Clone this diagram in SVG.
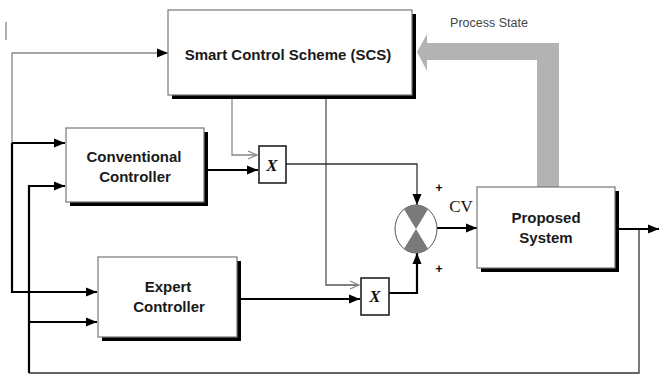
<svg xmlns="http://www.w3.org/2000/svg" width="659" height="376" viewBox="0 0 659 376">
<defs>
<marker id="ab" markerUnits="userSpaceOnUse" markerWidth="12" markerHeight="10" refX="11" refY="5" orient="auto"><path d="M0,0.5 L11,5 L0,9.5 Z" fill="#000"/></marker>
<marker id="ao" markerUnits="userSpaceOnUse" markerWidth="12" markerHeight="10" refX="10" refY="5" orient="auto"><path d="M1,1 L10,5 L1,9" fill="none" stroke="#888" stroke-width="1.2"/></marker>
</defs>
<style>
.box{fill:#fff;stroke:#777;stroke-width:1.2}
.sh{fill:#000}
.lbl{font-family:"Liberation Sans",Arial,sans-serif;font-weight:bold;font-size:15px;fill:#1a1a1a;text-anchor:middle}
.mul{fill:#fff;stroke:#222;stroke-width:1.6}
.mx{font-family:"Liberation Serif","Times New Roman",serif;font-weight:bold;font-style:italic;font-size:17px;fill:#111;text-anchor:middle}
.blk{fill:none;stroke:#000;stroke-width:2.2}
.thin{fill:none;stroke:#333;stroke-width:1.3}
.gry{fill:none;stroke:#888;stroke-width:1.3}
.dg{fill:none;stroke:#555;stroke-width:1.3}
.pl{font-family:"Liberation Sans",Arial,sans-serif;font-weight:bold;font-size:12px;fill:#000;text-anchor:middle}
</style>
<line x1="6" y1="22" x2="6" y2="40" stroke="#777" stroke-width="1.2"/>
<g id="connectors">
<polyline class="gry" points="12,143 12,53 168,53" marker-end="url(#ab)"/>
<polyline class="blk" points="12,143 12,292 97,292" marker-end="url(#ab)"/>
<line class="blk" x1="12" y1="143" x2="65" y2="143" marker-end="url(#ab)"/>
<polyline class="blk" points="29,373 29,186 65,186" marker-end="url(#ab)"/>
<line class="blk" x1="29" y1="322" x2="97" y2="322" marker-end="url(#ab)"/>
<polyline class="thin" points="29,373 639,373 639,229"/>
<line class="blk" x1="208" y1="170" x2="258" y2="170" marker-end="url(#ab)"/>
<line class="blk" x1="240" y1="299" x2="360" y2="299" marker-end="url(#ab)"/>
<polyline class="gry" points="232,98 232,155 257,155" marker-end="url(#ao)"/>
<polyline class="dg" points="326,98 326,285 359,285" marker-end="url(#ao)"/>
<polyline class="thin" points="286,164 417,164 417,205" marker-end="url(#ab)"/>
<polyline class="blk" points="389,293 417,293 417,253" marker-end="url(#ab)"/>
<line class="blk" x1="437" y1="228" x2="477" y2="228" marker-end="url(#ab)"/>
<line class="blk" x1="618" y1="229" x2="659" y2="229" marker-end="url(#ab)"/>
<polygon points="559,187 559,43 427,43 427,34 417,52 427,71 427,60 537,60 537,187" fill="#b3b3b3"/>
<text x="489" y="27" font-family="'Liberation Sans',Arial,sans-serif" font-size="12.5" fill="#444" text-anchor="middle">Process State</text>
<text x="461" y="212" font-family="'Liberation Serif','Times New Roman',serif" font-size="17" fill="#111" text-anchor="middle">CV</text>
<text x="439" y="192" class="pl">+</text>
<text x="439" y="273" class="pl">+</text>
</g>
<g id="scs">
<rect class="sh" x="172" y="14" width="244" height="85"/>
<rect class="box" x="168" y="10" width="244" height="85"/>
<text class="lbl" x="288" y="60" font-size="16.5">Smart Control Scheme (SCS)</text>
</g>
<g id="conventional">
<rect class="sh" x="70" y="132" width="138" height="74"/>
<rect class="box" x="66" y="128" width="138" height="74"/>
<text class="lbl" x="134" y="162">Conventional</text>
<text class="lbl" x="135" y="182">Controller</text>
</g>
<g id="expert">
<rect class="sh" x="102" y="261" width="139" height="80"/>
<rect class="box" x="98" y="257" width="139" height="80"/>
<text class="lbl" x="168" y="292">Expert</text>
<text class="lbl" x="169" y="312">Controller</text>
</g>
<g id="mult1">
<rect class="mul" x="259" y="146" width="27" height="37"/>
<text class="mx" x="272" y="171">X</text>
</g>
<g id="mult2">
<rect class="mul" x="361" y="278" width="28" height="37"/>
<text class="mx" x="375" y="302">X</text>
</g>
<g id="sum">
<ellipse cx="416" cy="229" rx="21" ry="24" fill="#fff" stroke="#555" stroke-width="1"/>
<path d="M416,229 L404,209.3 A21,24 0 0 1 428,209.3 Z" fill="#7a7a7a"/>
<path d="M416,229 L404,248.7 A21,24 0 0 0 428,248.7 Z" fill="#7a7a7a"/>
</g>
<g id="proposed">
<rect class="sh" x="481" y="191" width="138" height="81"/>
<rect class="box" x="477" y="187" width="138" height="81"/>
<text class="lbl" x="546" y="223">Proposed</text>
<text class="lbl" x="546" y="243">System</text>
</g>
</svg>
